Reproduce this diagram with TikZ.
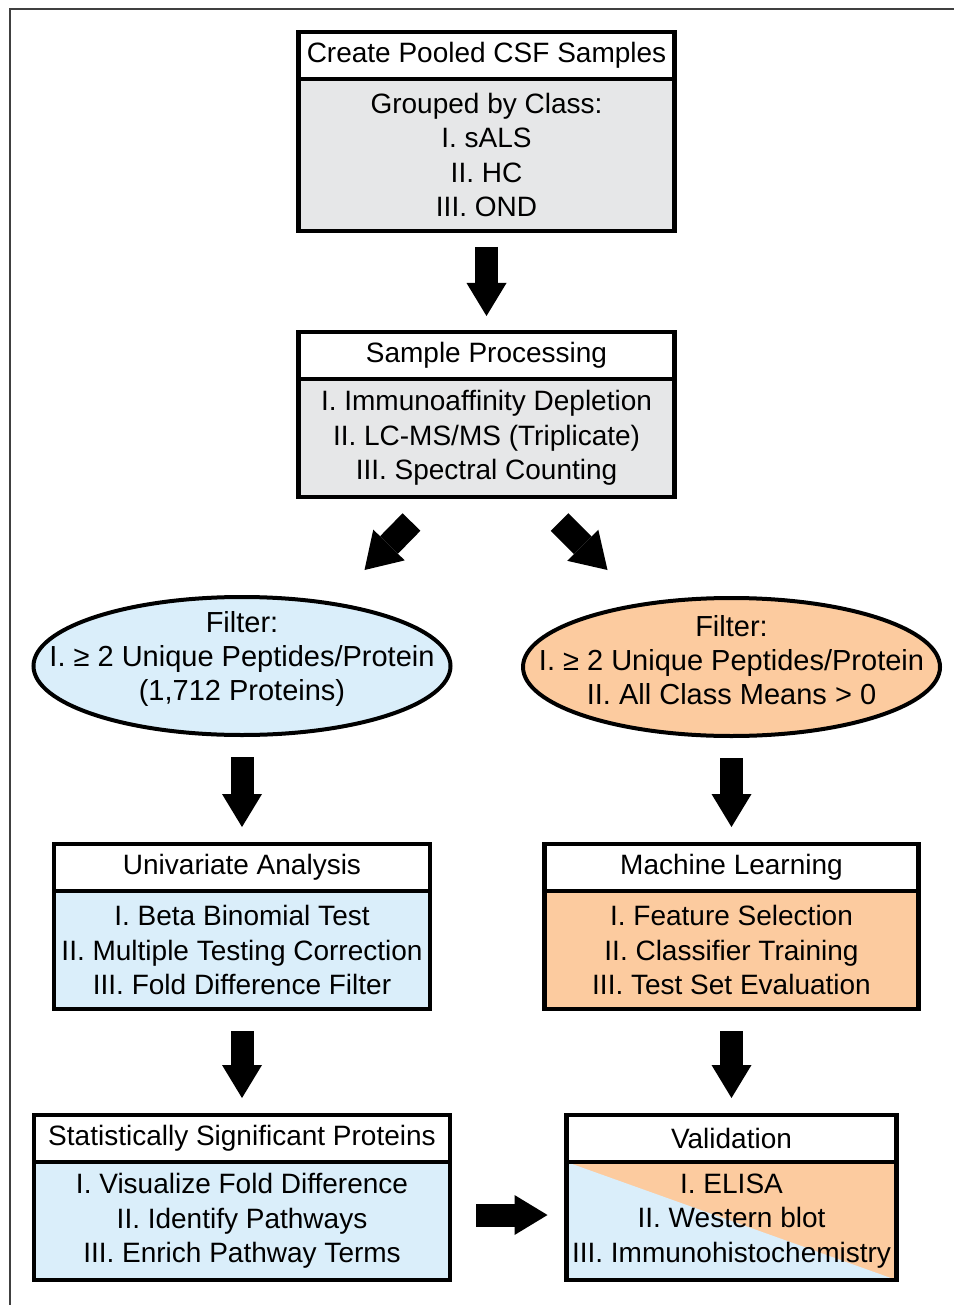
\documentclass[tikz,border=0pt]{standalone}
\usepackage{fontspec}
\setmainfont{Liberation Sans}
\usepackage{xcolor}
\usetikzlibrary{arrows.meta,shapes.geometric,positioning,calc}
\definecolor{procgray}{HTML}{E6E7E8}
\definecolor{uniblue}{HTML}{DAEEFA}
\definecolor{mlpeach}{HTML}{FCCB9F}

\begin{document}
\begin{tikzpicture}[
  x=1pt, y=1pt,
  head/.style={rectangle, draw=black, line width=4.5pt, fill=white, outer sep=0pt, inner sep=0pt,
               minimum height=47pt, font=\fontsize{28}{34.3}\selectfont},
  body/.style={rectangle, draw=black, line width=4.5pt, outer sep=0pt, inner sep=0pt,
               minimum height=118pt, align=center, font=\fontsize{28}{34.3}\selectfont},
  oval/.style={ellipse, draw=black, line width=4pt, outer sep=0pt, minimum width=417pt, minimum height=138pt},
  txt/.style={align=center, font=\fontsize{29}{34.3}\selectfont},
  bigarr/.style={line width=23pt, -{Triangle[length=33pt, width=40pt, line width=0pt]}},
  node distance=0pt
]
\useasboundingbox (0,0) rectangle (954,-1305);
\draw[line width=2pt, draw=black!75] (10,-1305) -- (10,-9) -- (954,-9);

% pooling and processing
\node[head, minimum width=376pt, anchor=north] (pool) at (486.5,-32) {Create Pooled CSF Samples};
\node[body, fill=procgray, minimum width=376pt, minimum height=152pt, below=of pool] (poolb)
  {Grouped by Class:\\ I. sALS\\ II. HC\\ III. OND};
\node[head, minimum width=376pt, anchor=north] (proc) at (486.5,-332) {Sample Processing};
\node[body, fill=procgray, minimum width=376pt, below=of proc] (procb)
  {I. Immunoaffinity Depletion\\ II. LC-MS/MS (Triplicate)\\ III. Spectral Counting};

% filters
\node[oval, fill=uniblue] (filtU) at (242,-666) {};
\node[txt] (filtUt) at ([yshift=7pt]filtU.center)
  {Filter:\\ I. ≥ 2 Unique Peptides/Protein\\ (1,712 Proteins)};
\node[oval, fill=mlpeach] (filtM) at (731.5,-667) {};
\node[txt] (filtMt) at ([yshift=7pt]filtM.center)
  {Filter:\\ I. ≥ 2 Unique Peptides/Protein\\ II. All Class Means > 0};

% analysis
\node[head, minimum width=376pt, anchor=north] (uni) at (242,-844) {Univariate Analysis};
\node[body, fill=uniblue, minimum width=376pt, below=of uni] (unib)
  {I. Beta Binomial Test\\ II. Multiple Testing Correction\\ III. Fold Difference Filter};
\node[head, minimum width=374pt, anchor=north] (ml) at (731.5,-844) {Machine Learning};
\node[body, fill=mlpeach, minimum width=374pt, below=of ml] (mlb)
  {I. Feature Selection\\ II. Classifier Training\\ III. Test Set Evaluation};

% results
\node[head, minimum width=416pt, anchor=north] (sig) at (242,-1115) {Statistically Significant Proteins};
\node[body, fill=uniblue, minimum width=416pt, below=of sig] (sigb)
  {I. Visualize Fold Difference\\ II. Identify Pathways\\ III. Enrich Pathway Terms};
\node[head, minimum width=330pt, anchor=north] (val) at (731.5,-1115) {Validation};
\node[body, fill=mlpeach, minimum width=330pt, below=of val,
      path picture={\fill[uniblue] (path picture bounding box.north west)
        -- (path picture bounding box.south east) -- (path picture bounding box.south west) -- cycle;}] (valb)
  {I. ELISA\\ II. Western blot\\ III. Immunohistochemistry};

% block arrows
\coordinate (toU0) at ($(procb.south)+(-75,-25)$);
\coordinate (toU1) at ($(procb.south)+(-122,-73)$);
\coordinate (toM0) at ($(procb.south)+(73,-25)$);
\coordinate (toM1) at ($(procb.south)+(121,-73)$);
\draw[bigarr, shorten <=16pt, shorten >=16pt] (poolb) -- (proc);
\draw[bigarr, line width=25pt, -{Triangle[length=35pt, width=44pt, line width=0pt]}] (toU0) -- (toU1);
\draw[bigarr, line width=25pt, -{Triangle[length=35pt, width=44pt, line width=0pt]}] (toM0) -- (toM1);
\draw[bigarr, shorten <=22pt, shorten >=17pt] (filtU) -- (uni);
\draw[bigarr, shorten <=22pt, shorten >=17pt] (filtM) -- (ml);
\draw[bigarr, shorten <=22pt, shorten >=17pt] (unib) -- (sig);
\draw[bigarr, shorten <=22pt, shorten >=17pt] (mlb) -- (val);
\draw[bigarr, shorten <=26pt, shorten >=19pt] ([yshift=6pt]sigb.east) -- ([yshift=6pt]valb.west);

\end{tikzpicture}
\end{document}
